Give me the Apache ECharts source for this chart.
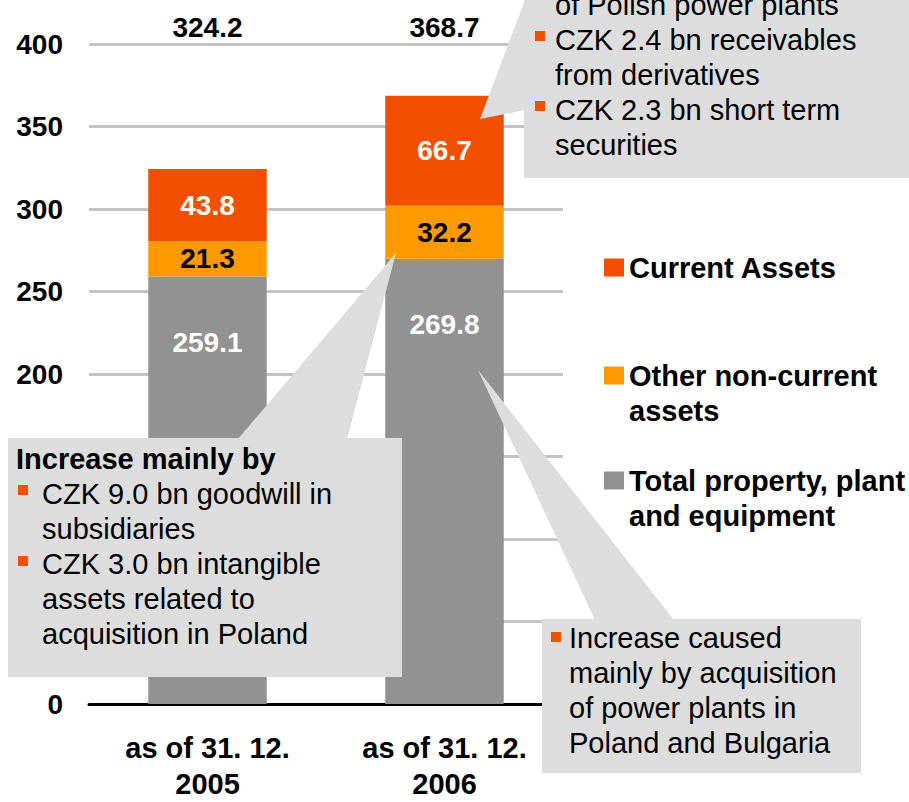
<!DOCTYPE html>
<html>
<head>
<meta charset="utf-8">
<title>Assets structure</title>
<script src="https://cdn.jsdelivr.net/npm/echarts@6/dist/echarts.min.js"></script>
<style>
    html, body { margin: 0; padding: 0; background: #fff; }
    #assetsChart { width: 909px; height: 802px; }
</style>
</head>
<body>
<div id="assetsChart"></div>
<script>
    // values (CZK bn)
    const categories = ['as of 31. 12.\n2005', 'as of 31. 12.\n2006'];
    const ppeValues = [259.1, 269.8];
    const otherValues = [21.3, 32.2];
    const currentValues = [43.8, 66.7];
    // tick labels left visible (50-150 sit under the left callout on the slide)
    const shownTicks = [0, 200, 250, 300, 350, 400];
    const seriesNames = ['Total property, plant and equipment', 'Other non-current assets', 'Current Assets'];
    const legendText = {
        'Current Assets': 'Current Assets',
        'Other non-current assets': '\nOther non-current\nassets',
        'Total property, plant and equipment': '\nTotal property, plant\nand equipment'
    };

    const totals = ppeValues.map(function (v, i) {
        return (v + otherValues[i] + currentValues[i]).toFixed(1);
    });

    const font = "'Liberation Sans', Arial, sans-serif";
    const boxColor = '#dddddd';
    const bulletColor = '#f25000';

    function legendAt(name, top) {
        return {
            data: [name],
            orient: 'vertical',
            left: 604,
            top: top,
            padding: 0,
            icon: 'rect',
            itemWidth: 20,
            itemHeight: 18,
            selectedMode: false,
            formatter: function (n) { return legendText[n]; },
            textStyle: { fontFamily: font, fontSize: 29, fontWeight: 'bold', color: '#000', lineHeight: 35 }
        };
    }

    function box(x, y, w, h) {
        return { type: 'rect', z: 100, shape: { x: x, y: y, width: w, height: h }, style: { fill: boxColor } };
    }
    function wedge(points) {
        return { type: 'polygon', z: 100, shape: { points: points }, style: { fill: boxColor } };
    }
    function bullet(x, y) {
        return { type: 'rect', z: 101, shape: { x: x, y: y, width: 10, height: 10 }, style: { fill: bulletColor } };
    }
    function note(x, y, text, bold) {
        return {
            type: 'text', z: 101, x: x, y: y,
            style: {
                text: text, fill: '#000', font: (bold ? 'bold ' : '') + '29px ' + font,
                lineHeight: 35, verticalAlign: 'top', align: 'left'
            }
        };
    }

    const chart = echarts.init(document.getElementById('assetsChart'), null, { renderer: 'svg' });
    const option = {
        animation: false,
        grid: { left: 89, right: 346, top: 44, bottom: 94 },
        legend: [
            legendAt('Current Assets', 250),
            legendAt('Other non-current assets', 323),
            legendAt('Total property, plant and equipment', 428)
        ],
        xAxis: [{
            type: 'category',
            data: categories,
            axisLine: { lineStyle: { color: '#000', width: 3 } },
            axisTick: { show: false },
            axisLabel: { fontFamily: font, fontSize: 29, fontWeight: 'bold', color: '#000', lineHeight: 36, margin: 26 }
        }, {
            type: 'category',
            position: 'top',
            data: totals,
            axisLine: { show: false },
            axisTick: { show: false },
            splitLine: { show: false },
            axisLabel: { fontFamily: font, fontSize: 28, fontWeight: 'bold', color: '#000', lineHeight: 28, margin: 3 }
        }],
        yAxis: {
            type: 'value',
            min: 0,
            max: 400,
            interval: 50,
            axisLine: { show: false },
            axisTick: { show: false },
            axisLabel: {
                fontFamily: font, fontSize: 28, fontWeight: 'bold', color: '#000', margin: 26,
                formatter: function (v) { return shownTicks.indexOf(v) >= 0 ? String(v) : ''; }
            },
            splitLine: { lineStyle: { color: '#c4c4c4', width: 3 } }
        },
        series: [{
            name: seriesNames[0],
            type: 'bar',
            stack: 'assets',
            barWidth: '50%',
            data: ppeValues,
            itemStyle: { color: '#929292' },
            label: { show: true, position: 'insideTop', distance: 52, fontFamily: font, fontSize: 28, fontWeight: 'bold', color: '#fff' }
        }, {
            name: seriesNames[1],
            type: 'bar',
            stack: 'assets',
            data: otherValues,
            itemStyle: { color: '#ff9900' },
            label: { show: true, position: 'inside', fontFamily: font, fontSize: 28, fontWeight: 'bold', color: '#000' }
        }, {
            name: seriesNames[2],
            type: 'bar',
            stack: 'assets',
            data: currentValues,
            itemStyle: { color: '#f25000' },
            label: { show: true, position: 'inside', fontFamily: font, fontSize: 28, fontWeight: 'bold', color: '#fff' }
        }],
        graphic: [
            // callout at the top right (cut by the slide edge)
            wedge([[480, 119], [525, 0], [525, 110]]),
            box(524, 0, 385, 178),
            bullet(535, 31),
            bullet(535, 101),
            note(555, -13, 'of Polish power plants\nCZK 2.4 bn receivables\nfrom derivatives\nCZK 2.3 bn short term\nsecurities'),
            // callout on the left
            wedge([[396, 253], [238, 439], [347, 439]]),
            box(8, 438, 394, 239),
            note(16, 441, 'Increase mainly by', true),
            bullet(18, 485),
            bullet(18, 556),
            note(42, 476, 'CZK 9.0 bn goodwill in\nsubsidiaries\nCZK 3.0 bn intangible\nassets related to\nacquisition in Poland'),
            // callout at the bottom right
            wedge([[478, 370], [595, 620], [674, 620]]),
            box(542, 619, 319, 154),
            bullet(551, 632),
            note(569, 620, 'Increase caused\nmainly by acquisition\nof power plants in\nPoland and Bulgaria')
        ]
    };
    chart.setOption(option);
    window.addEventListener('resize', function () {
        chart.resize();
    });
</script>
</body>
</html>
